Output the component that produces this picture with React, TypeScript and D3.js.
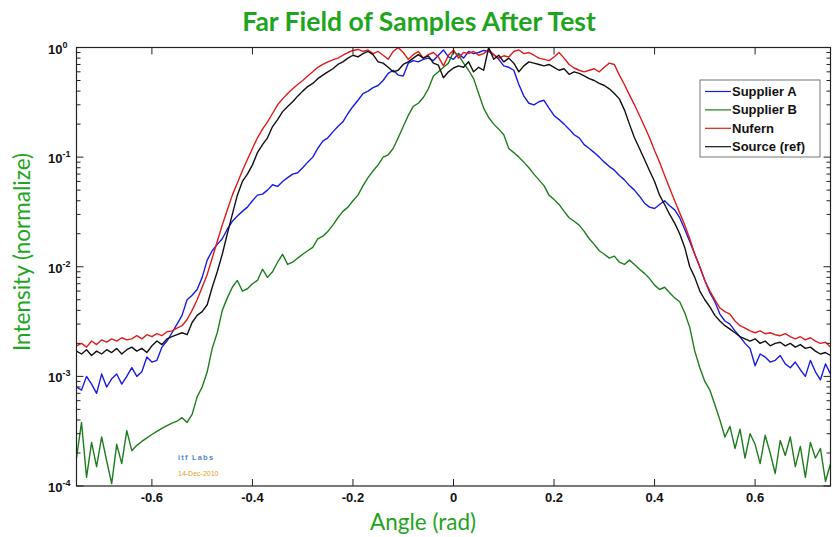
import { useEffect, useRef } from "react";
import * as d3 from "d3";

// angle grid (rad), one sample every 0.01 rad
const angles = d3.range(151).map((i) => +(-0.75 + i * 0.01).toFixed(2));

const supplierA = [
  8e-4, 7.5e-4, 1.0e-3, 8.5e-4, 7e-4, 1.05e-3, 8e-4, 9.5e-4, 1.05e-3, 8.5e-4,
  1e-3, 1.2e-3, 1.0e-3, 1.1e-3, 1.5e-3, 1.35e-3, 1.4e-3, 1.85e-3, 2.1e-3, 2.5e-3,
  3e-3, 3.6e-3, 5e-3, 5.5e-3, 6.2e-3, 8e-3, 1.15e-2, 1.4e-2, 1.6e-2, 1.8e-2,
  2.2e-2, 2.6e-2, 2.9e-2, 3.2e-2, 3.5e-2, 4e-2, 4.5e-2, 4.6e-2, 5e-2, 5.6e-2,
  5.4e-2, 6e-2, 6.5e-2, 7e-2, 7.2e-2, 8e-2, 9e-2, 0.1, 0.12, 0.14,
  0.15, 0.17, 0.19, 0.21, 0.25, 0.29, 0.33, 0.38, 0.4, 0.43,
  0.45, 0.5, 0.58, 0.62, 0.56, 0.55, 0.72, 0.76, 0.74, 0.78,
  0.8, 0.76, 0.85, 0.95, 0.82, 0.78, 0.88, 0.8, 0.92, 0.88,
  0.9, 0.94, 0.92, 0.86, 0.78, 0.68, 0.66, 0.62, 0.46, 0.36,
  0.31, 0.3, 0.32, 0.33, 0.28, 0.24, 0.22, 0.2, 0.18, 0.16,
  0.15, 0.13, 0.12, 0.11, 0.1, 9e-2, 8.2e-2, 7.6e-2, 6.8e-2, 6.2e-2,
  5.5e-2, 5e-2, 4.4e-2, 3.8e-2, 3.5e-2, 3.4e-2, 3.7e-2, 4e-2, 3.6e-2, 3.3e-2,
  2.8e-2, 2.2e-2, 1.7e-2, 1.3e-2, 1e-2, 7.5e-3, 5.8e-3, 4.8e-3, 3.7e-3, 3.2e-3,
  3e-3, 2.6e-3, 2.3e-3, 2e-3, 1.8e-3, 1.25e-3, 1.6e-3, 1.5e-3, 1.35e-3, 1.4e-3,
  1.55e-3, 1.3e-3, 1.2e-3, 1.35e-3, 1.15e-3, 1e-3, 1.4e-3, 1.1e-3, 9.3e-4, 1.3e-3,
  1.05e-3,
];

const supplierB = [
  1.8e-4, 3.8e-4, 1.2e-4, 2.5e-4, 1.5e-4, 2.8e-4, 1.7e-4, 1.05e-4, 2.4e-4, 1.6e-4,
  3.2e-4, 2.1e-4, 2.35e-4, 2.55e-4, 2.75e-4, 2.95e-4, 3.15e-4, 3.35e-4, 3.55e-4, 3.75e-4,
  3.9e-4, 4.2e-4, 3.8e-4, 4.5e-4, 6.5e-4, 8e-4, 1.1e-3, 1.8e-3, 2.5e-3, 4e-3,
  5.2e-3, 6.5e-3, 7.5e-3, 6e-3, 6.3e-3, 7e-3, 7.5e-3, 9.5e-3, 8e-3, 9e-3,
  1.1e-2, 1.3e-2, 1.05e-2, 1.1e-2, 1.2e-2, 1.3e-2, 1.4e-2, 1.5e-2, 1.8e-2, 1.9e-2,
  2.1e-2, 2.4e-2, 2.8e-2, 3.2e-2, 3.5e-2, 4e-2, 4.5e-2, 5.5e-2, 6.5e-2, 7.5e-2,
  8.5e-2, 0.1, 0.105, 0.12, 0.15, 0.19, 0.24, 0.29, 0.31, 0.35,
  0.42, 0.55, 0.6, 0.66, 0.72, 0.92, 0.85, 0.72, 0.62, 0.52,
  0.38, 0.28, 0.23, 0.2, 0.18, 0.16, 0.12, 0.11, 0.1, 9e-2,
  8e-2, 7e-2, 6.2e-2, 5.5e-2, 4.5e-2, 4.1e-2, 3.7e-2, 3.2e-2, 2.8e-2, 2.6e-2,
  2.4e-2, 2.1e-2, 1.8e-2, 1.6e-2, 1.4e-2, 1.3e-2, 1.2e-2, 1.25e-2, 1.1e-2, 1.05e-2,
  1.15e-2, 1.05e-2, 9.5e-3, 8.7e-3, 7.8e-3, 6.8e-3, 6.2e-3, 6.5e-3, 5.8e-3, 5.2e-3,
  4.8e-3, 3.8e-3, 2.8e-3, 1.7e-3, 1.2e-3, 9e-4, 7.5e-4, 5.5e-4, 4e-4, 2.8e-4,
  3.5e-4, 2.2e-4, 3.3e-4, 1.8e-4, 3e-4, 2.4e-4, 1.6e-4, 2.9e-4, 2e-4, 1.3e-4,
  2.6e-4, 1.9e-4, 2.8e-4, 1.5e-4, 2.3e-4, 1.2e-4, 2.5e-4, 1.8e-4, 2.2e-4, 1.1e-4,
  1.6e-4,
];

const nufern = [
  1.9e-3, 2.0e-3, 1.85e-3, 2.1e-3, 1.95e-3, 2.15e-3, 2.05e-3, 2.2e-3, 2.1e-3, 2.25e-3,
  2.15e-3, 2.2e-3, 2.35e-3, 2.2e-3, 2.4e-3, 2.3e-3, 2.45e-3, 2.35e-3, 2.55e-3, 2.6e-3,
  2.75e-3, 2.9e-3, 3.3e-3, 4e-3, 5e-3, 6.5e-3, 8.5e-3, 1.2e-2, 1.7e-2, 2.4e-2,
  3.3e-2, 4.5e-2, 5.8e-2, 7.5e-2, 9.5e-2, 0.12, 0.15, 0.18, 0.21, 0.25,
  0.3, 0.34, 0.38, 0.42, 0.46, 0.5, 0.55, 0.6, 0.66, 0.7,
  0.74, 0.77, 0.8, 0.85, 0.9, 0.94, 0.96, 0.92, 0.95, 0.88,
  0.92, 0.85, 0.78, 0.92, 1.0, 0.9, 0.78, 0.86, 0.92, 0.8,
  0.86, 0.9, 0.82, 0.68, 0.85, 0.95, 0.8, 0.9, 0.88, 0.92,
  0.85, 0.88, 0.96, 0.86, 0.8, 0.84, 0.82, 0.92, 0.95, 0.88,
  0.9, 0.85, 0.8, 0.78, 0.76, 0.82, 0.9, 0.8, 0.7, 0.65,
  0.62, 0.6, 0.62, 0.64, 0.6, 0.66, 0.72, 0.7, 0.56, 0.46,
  0.37, 0.3, 0.24, 0.19, 0.15, 0.115, 9e-2, 6.8e-2, 5.2e-2, 4e-2,
  3.1e-2, 2.4e-2, 1.8e-2, 1.3e-2, 1e-2, 7.5e-3, 6e-3, 5e-3, 4.2e-3, 3.9e-3,
  3.7e-3, 3.2e-3, 2.9e-3, 2.75e-3, 2.6e-3, 2.5e-3, 2.6e-3, 2.45e-3, 2.5e-3, 2.4e-3,
  2.35e-3, 2.45e-3, 2.3e-3, 2.2e-3, 2.3e-3, 2.15e-3, 2.25e-3, 2.1e-3, 2e-3, 2.05e-3,
  1.85e-3,
];

const sourceRef = [
  1.7e-3, 1.6e-3, 1.75e-3, 1.55e-3, 1.7e-3, 1.6e-3, 1.75e-3, 1.65e-3, 1.8e-3, 1.6e-3,
  1.75e-3, 1.85e-3, 1.7e-3, 1.8e-3, 1.65e-3, 1.9e-3, 2.1e-3, 1.95e-3, 2.2e-3, 2.3e-3,
  2.4e-3, 2.5e-3, 2.4e-3, 3.1e-3, 3.6e-3, 3.9e-3, 4.5e-3, 6.5e-3, 9e-3, 1.3e-2,
  2e-2, 3e-2, 4.5e-2, 6e-2, 7e-2, 8.5e-2, 0.11, 0.13, 0.15, 0.19,
  0.22, 0.26, 0.29, 0.32, 0.36, 0.4, 0.44, 0.47, 0.52, 0.56,
  0.6, 0.64, 0.7, 0.74, 0.8, 0.85, 0.82, 0.88, 0.92, 0.86,
  0.74, 0.72, 0.66, 0.6, 0.62, 0.7, 0.74, 0.8, 0.86, 0.8,
  0.84, 0.72, 0.69, 0.53, 0.6, 0.65, 0.68, 0.66, 0.74, 0.6,
  0.66, 0.62, 1.0, 0.78, 0.85, 0.74, 0.8, 0.72, 0.6, 0.68,
  0.74, 0.72, 0.7, 0.68, 0.7, 0.66, 0.62, 0.64, 0.57, 0.6,
  0.58, 0.55, 0.52, 0.5, 0.47, 0.45, 0.42, 0.38, 0.34, 0.27,
  0.2, 0.15, 0.12, 9.5e-2, 7.5e-2, 6e-2, 4.5e-2, 3.7e-2, 3e-2, 2.5e-2,
  2e-2, 1.5e-2, 1e-2, 8e-3, 6e-3, 5e-3, 4.3e-3, 3.6e-3, 3.2e-3, 2.9e-3,
  2.7e-3, 2.5e-3, 2.3e-3, 2.2e-3, 2.1e-3, 2.2e-3, 2e-3, 2.1e-3, 1.9e-3, 2e-3,
  2.05e-3, 1.9e-3, 2e-3, 1.85e-3, 1.95e-3, 1.8e-3, 1.85e-3, 1.7e-3, 1.6e-3, 1.65e-3,
  1.55e-3,
];

const seriesNames = ["Supplier A", "Supplier B", "Nufern", "Source (ref)"];
const seriesColors = ["#1a1ae6", "#1e7d1e", "#e01b1b", "#111111"];
const xTicks = [-0.6, -0.4, -0.2, 0, 0.2, 0.4, 0.6];
const xTickLabels = ["-0.6", "-0.4", "-0.2", "0", "0.2", "0.4", "0.6"];
const yDecades = [0, -1, -2, -3, -4];

export default function App() {
  const ref = useRef<SVGSVGElement>(null);

  useEffect(() => {
    const svg = d3.select(ref.current);
    svg.selectAll("*").remove();

    const width = 833;
    const height = 537;
    const plot = { left: 76.5, right: 830.5, top: 47.5, bottom: 486 };

    const x = d3.scaleLinear().domain([-0.75, 0.75]).range([plot.left, plot.right]);
    const y = d3.scaleLog().domain([1e-4, 1]).range([plot.bottom, plot.top]);

    svg.attr("width", width).attr("height", height);
    svg.append("rect").attr("width", width).attr("height", height).attr("fill", "#fff");

    svg
      .append("defs")
      .append("clipPath")
      .attr("id", "plotclip")
      .append("rect")
      .attr("x", plot.left)
      .attr("y", plot.top)
      .attr("width", plot.right - plot.left)
      .attr("height", plot.bottom - plot.top);

    // watermark
    svg
      .append("text")
      .attr("x", 178)
      .attr("y", 460)
      .attr("font-family", "Liberation Sans, Arial, sans-serif")
      .attr("font-size", 7.5)
      .attr("font-weight", "bold")
      .attr("letter-spacing", 1.2)
      .attr("fill", "#4f86c6")
      .text("itf Labs");
    svg
      .append("text")
      .attr("x", 178)
      .attr("y", 476)
      .attr("font-family", "Liberation Sans, Arial, sans-serif")
      .attr("font-size", 7)
      .attr("fill", "#e0a020")
      .text("14-Dec-2010");

    // curves
    const all = [supplierA, supplierB, nufern, sourceRef];
    const line = d3
      .line<number>()
      .x((_, i) => x(angles[i]))
      .y((d) => y(d));
    const g = svg.append("g").attr("clip-path", "url(#plotclip)");
    all.forEach((vals, k) => {
      g.append("path")
        .datum(vals)
        .attr("d", line)
        .attr("fill", "none")
        .attr("stroke", seriesColors[k])
        .attr("stroke-width", 1.4)
        .attr("stroke-linejoin", "round");
    });

    // frame
    svg
      .append("rect")
      .attr("x", plot.left)
      .attr("y", plot.top)
      .attr("width", plot.right - plot.left)
      .attr("height", plot.bottom - plot.top)
      .attr("fill", "none")
      .attr("stroke", "#222")
      .attr("stroke-width", 1.2);

    const axes = svg.append("g").attr("stroke", "#222").attr("stroke-width", 1);

    // x ticks (bottom and top, inward)
    xTicks.forEach((t) => {
      axes.append("line").attr("x1", x(t)).attr("x2", x(t)).attr("y1", plot.bottom).attr("y2", plot.bottom - 7);
      axes.append("line").attr("x1", x(t)).attr("x2", x(t)).attr("y1", plot.top).attr("y2", plot.top + 7);
    });

    // y ticks, major + minor, on both sides
    yDecades.forEach((e) => {
      const base = Math.pow(10, e);
      for (let m = 1; m <= 9; m++) {
        if (e === 0 && m > 1) continue;
        const v = base * m;
        const len = m === 1 ? 7 : 4;
        axes.append("line").attr("x1", plot.left).attr("x2", plot.left + len).attr("y1", y(v)).attr("y2", y(v));
        axes.append("line").attr("x1", plot.right).attr("x2", plot.right - len).attr("y1", y(v)).attr("y2", y(v));
      }
    });

    // x tick labels
    svg
      .append("g")
      .selectAll("text")
      .data(xTicks)
      .enter()
      .append("text")
      .attr("x", (d) => x(d))
      .attr("y", plot.bottom + 16)
      .attr("text-anchor", "middle")
      .attr("font-family", "Liberation Sans, Arial, sans-serif")
      .attr("font-weight", "bold")
      .attr("font-size", 13)
      .attr("fill", "#111")
      .text((_, i) => xTickLabels[i]);

    // y tick labels 10^e
    yDecades.forEach((e) => {
      const t = svg
        .append("text")
        .attr("x", 48)
        .attr("y", y(Math.pow(10, e)) + 6)
        .attr("font-family", "Liberation Sans, Arial, sans-serif")
        .attr("font-weight", "bold")
        .attr("font-size", 13)
        .attr("fill", "#111");
      t.append("tspan").text("10");
      t.append("tspan").attr("dy", -6).attr("font-size", 9).text(String(e));
    });

    // title and axis labels
    svg
      .append("text")
      .attr("x", 419)
      .attr("y", 31)
      .attr("text-anchor", "middle")
      .attr("font-family", "Lato, Open Sans, sans-serif")
      .attr("font-weight", "bold")
      .attr("font-size", 26.5)
      .attr("fill", "#1ea51e")
      .text("Far Field of Samples After Test");

    svg
      .append("text")
      .attr("x", 423)
      .attr("y", 530)
      .attr("text-anchor", "middle")
      .attr("font-family", "Lato, Open Sans, sans-serif")
      .attr("font-size", 22.5)
      .attr("fill", "#1ea51e")
      .text("Angle (rad)");

    svg
      .append("text")
      .attr("transform", "translate(30,252) rotate(-90)")
      .attr("text-anchor", "middle")
      .attr("font-family", "Lato, Open Sans, sans-serif")
      .attr("font-size", 22.5)
      .attr("fill", "#1ea51e")
      .text("Intensity (normalize)");

    // legend
    const lg = svg.append("g");
    lg.append("rect")
      .attr("x", 700)
      .attr("y", 80)
      .attr("width", 120)
      .attr("height", 77)
      .attr("fill", "#fff")
      .attr("stroke", "#777")
      .attr("stroke-width", 1);
    seriesNames.forEach((name, k) => {
      const by = 96 + k * 18.4;
      lg.append("line")
        .attr("x1", 705)
        .attr("x2", 731)
        .attr("y1", by - 4.5)
        .attr("y2", by - 4.5)
        .attr("stroke", seriesColors[k])
        .attr("stroke-width", 1.2);
      lg.append("text")
        .attr("x", 732)
        .attr("y", by)
        .attr("font-family", "Liberation Sans, Arial, sans-serif")
        .attr("font-weight", "bold")
        .attr("font-size", 13)
        .attr("fill", "#111")
        .text(name);
    });
  }, []);

  return <svg ref={ref} style={{ display: "block", position: "absolute", left: 0, top: 0 }} />;
}
